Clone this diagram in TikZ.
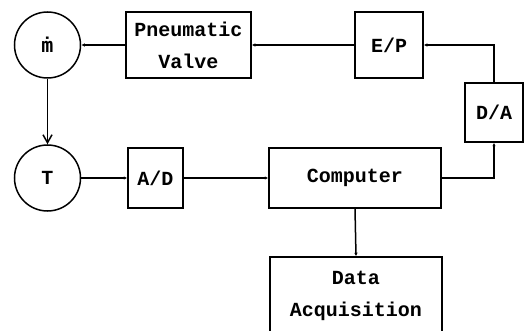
\documentclass[tikz,border=0pt]{standalone}
\usepackage{fontspec}
\setmonofont{Liberation Mono}
\newfontfamily\djm{DejaVu Sans Mono}
\usetikzlibrary{arrows.meta}
\begin{document}
\begin{tikzpicture}[x=1pt,y=-1pt,
  font=\ttfamily\bfseries\fontsize{20}{32}\selectfont,
  blk/.style={draw, line width=1.5pt, inner sep=0pt, align=center},
  circ/.style={draw, circle, line width=1.5pt, minimum size=66pt, inner sep=0pt},
  sig/.style={line width=1.5pt, -{Latex[length=3.5pt,width=3.5pt]}},
  big/.style={line width=1.5pt, -{Straight Barb[length=8pt,width=9pt]}}]
\useasboundingbox (0,0) rectangle (525,331);
\clip (0,0) rectangle (525,331);
\node[circ] (m) at (47.5,45) {\djm\bfseries ṁ};
\node[circ] (t) at (47.5,178) {T};
\node[blk, minimum width=125pt, minimum height=66pt] (valve) at (188.5,45) {Pneumatic\\Valve};
\node[blk, minimum width=68pt, minimum height=66pt] (ep) at (389,45) {E/P};
\node[blk, minimum width=58pt, minimum height=59pt] (da) at (494,112.5) {D/A};
\node[blk, minimum width=55pt, minimum height=60pt] (ad) at (155.5,178) {A/D};
\node[blk, minimum width=172pt, minimum height=60pt] (comp) at (355,178) {Computer};
\node[blk, minimum width=172pt, minimum height=78pt] (acq) at (356,296) {Data\\Acquisition};
\draw[big] (m) -- (t);
\draw[sig] (t) -- (ad);
\draw[sig] (ad) -- (comp);
\draw[sig] (comp.east) -| (da.south);
\draw[sig] (da.north) |- (ep.east);
\draw[sig] (ep) -- (valve);
\draw[sig] (valve) -- (m);
\draw[sig] (comp.south) -- (acq.north);
\end{tikzpicture}
\end{document}
